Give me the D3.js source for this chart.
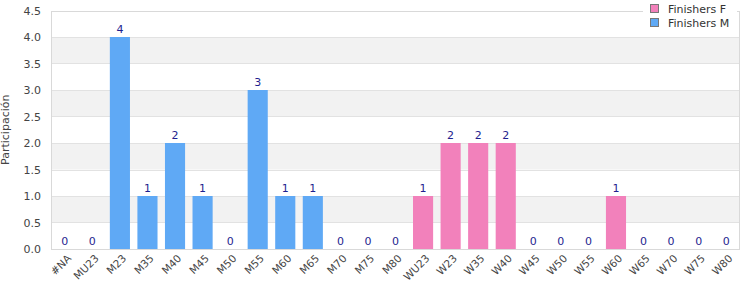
<!DOCTYPE html>
<html><head><meta charset="utf-8">
<script src="https://cdn.jsdelivr.net/npm/d3@7"></script>
<style>body{margin:0;background:#fff}svg{display:block;font-family:"DejaVu Sans",Verdana,sans-serif}</style>
</head><body><svg id="c" width="750" height="300"></svg>
<script>
const categories = ["#NA","MU23","M23","M35","M40","M45","M50","M55","M60","M65","M70","M75","M80","WU23","W23","W35","W40","W45","W50","W55","W60","W65","W70","W75","W80"];
const values = [0,0,4,1,2,1,0,3,1,1,0,0,0,1,2,2,2,0,0,0,1,0,0,0,0];
const series = ["M","M","M","M","M","M","M","M","M","M","M","M","M","F","F","F","F","F","F","F","F","F","F","F","F"];
const yTicks = [0,0.5,1,1.5,2,2.5,3,3.5,4,4.5];
const legendNames = ["Finishers F","Finishers M"];
const colors = {F:"#f281bb", M:"#5fa9f5"};

const svg = d3.select("#c");
const m = {l:51, r:10, t:10.5, b:51};
const W = 750, H = 300;
const x = d3.scaleBand().domain(categories).range([m.l, W-m.r]).paddingInner(0.27).paddingOuter(0.135);
const y = d3.scaleLinear().domain([0,4.5]).range([H-m.b, m.t]);

// alternating bands
const g = svg.append("g");
for (let i=0;i<yTicks.length-1;i++){
  if (i%2===1) g.append("rect").attr("x",m.l).attr("width",W-m.r-m.l)
    .attr("y",y(yTicks[i+1])).attr("height",y(yTicks[i])-y(yTicks[i+1])).attr("fill","#f2f2f2");
}
g.selectAll("line.grid").data(yTicks).join("line").attr("class","grid")
  .attr("x1",m.l).attr("x2",W-m.r).attr("y1",d=>Math.round(y(d))+0.5).attr("y2",d=>Math.round(y(d))+0.5)
  .attr("stroke","#e2e2e2");
svg.append("rect").attr("x",m.l+0.5).attr("y",Math.round(m.t)+0.5).attr("width",W-m.r-m.l-1).attr("height",Math.round(y(0))-Math.round(m.t))
  .attr("fill","none").attr("stroke","#d9d9d9");

// bars
svg.selectAll("rect.bar").data(categories).join("rect").attr("class","bar")
  .attr("x",d=>x(d)).attr("width",x.bandwidth())
  .attr("y",(d,i)=>y(values[i])).attr("height",(d,i)=>y(0)-y(values[i]))
  .attr("fill",(d,i)=>colors[series[i]]);

// value labels
svg.selectAll("text.val").data(categories).join("text").attr("class","val")
  .attr("x",d=>x(d)+x.bandwidth()/2).attr("y",(d,i)=>y(values[i])-4)
  .attr("text-anchor","middle").attr("font-size",11).attr("fill","#1f1f8f")
  .text((d,i)=>values[i]);

// y axis
const ya = svg.append("g").attr("transform",`translate(${m.l},0)`)
  .call(d3.axisLeft(y).tickValues(yTicks).tickFormat(d3.format(".1f")).tickSize(0).tickPadding(10));
ya.select(".domain").remove();
ya.selectAll("text").attr("font-size",11).attr("fill","#444").attr("font-family","DejaVu Sans, sans-serif");

// x axis
const xa = svg.append("g").attr("transform",`translate(0,${y(0)})`)
  .call(d3.axisBottom(x).tickSize(0).tickPadding(0));
xa.select(".domain").remove();
xa.selectAll("text").attr("font-size",10.5).attr("fill","#444").attr("font-family","DejaVu Sans, sans-serif")
  .attr("text-anchor","end").attr("dy",0)
  .attr("transform",d=>`translate(${x.bandwidth()/2-3},10) rotate(-45)`);

// y title
svg.append("text").attr("transform",`translate(5,${(m.t+y(0))/2}) rotate(-90)`).attr("text-anchor","middle")
  .attr("dy","0.35em").attr("font-size",11).attr("fill","#444").text("Participación");

// legend
const lg = svg.append("g");
lg.append("rect").attr("x",643).attr("y",0).attr("width",94).attr("height",36).attr("fill","#fff");
legendNames.forEach((n,i)=>{
  const key = i===0?"F":"M";
  lg.append("rect").attr("x",650.5).attr("y",4.5+i*14).attr("width",8).attr("height",8)
    .attr("fill",colors[key]).attr("stroke","#777");
  lg.append("text").attr("x",668).attr("y",9+i*14).attr("dy","0.35em").attr("font-size",11).attr("fill","#333").text(n);
});
</script></body></html>
